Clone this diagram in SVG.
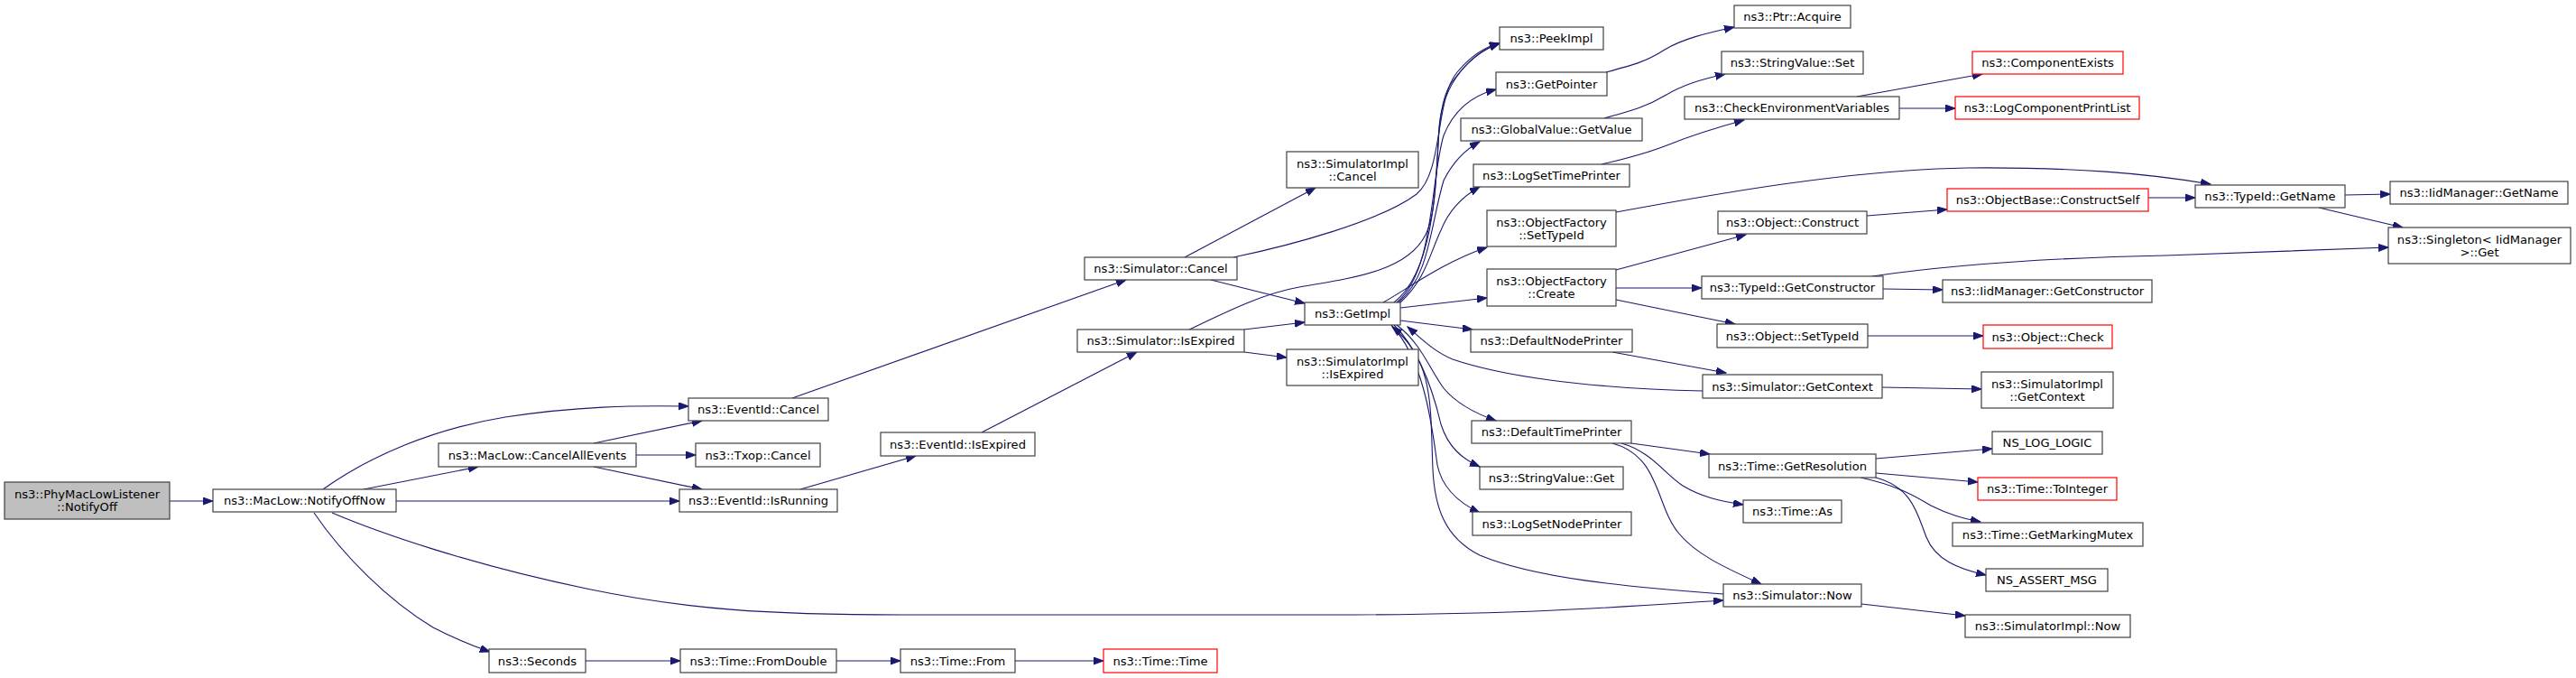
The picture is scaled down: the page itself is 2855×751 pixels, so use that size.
<svg xmlns="http://www.w3.org/2000/svg" width="2855" height="751" viewBox="0 0 2855 751">
<style>
.n rect{fill:#fff;stroke:#404040;stroke-width:1.2}
.n.red rect{stroke:#ff0000}
.n.root rect{fill:#bfbfbf}
text{font-family:"DejaVu Sans","Liberation Sans",sans-serif;font-size:13.1px;text-anchor:middle;fill:#000}
#edges path{fill:none;stroke:#191970;stroke-width:1.1;marker-end:url(#a)}
</style>
<defs>
<marker id="a" markerWidth="12" markerHeight="9" refX="11" refY="4" orient="auto" markerUnits="userSpaceOnUse">
<path d="M0,0 L11,4 L0,8 z" fill="#191970" stroke="#191970" stroke-width="1"/>
</marker>
</defs>
<rect width="2855" height="751" fill="#fff"/>
<g id="edges">
<path d="M188,555 L236,555"/>
<path d="M358,542 C410,505 480,475 560,462 C640,450 700,449 763,450"/>
<path d="M403,542 L530,517"/>
<path d="M439,555 L753,555"/>
<path d="M368,568 C420,590 520,625 650,652 C760,675 850,681 1000,681 L1500,681 C1700,680 1800,672 1910,665"/>
<path d="M348,568 C380,615 430,665 480,695 C505,708 520,714 543,722"/>
<path d="M658,491 L778,466"/>
<path d="M705,504 L771,504"/>
<path d="M658,517 L778,542"/>
<path d="M878,441 L1248,310"/>
<path d="M887,542 L1015,505"/>
<path d="M1088,479 L1260,390"/>
<path d="M1379,390 L1426,396"/>
<path d="M1379,365 L1446,357"/>
<path d="M1318,365 C1360,345 1400,325 1440,318 C1500,308 1560,300 1580,260 C1600,220 1585,120 1610,90 C1625,70 1640,55 1662,48"/>
<path d="M1313,285 L1458,208"/>
<path d="M1367,285 C1430,272 1530,245 1570,215 C1600,190 1590,110 1615,80 C1630,62 1645,52 1662,48"/>
<path d="M1342,310 L1446,336"/>
<path d="M1545,335 C1590,300 1592,200 1595,140 C1600,90 1630,60 1662,48"/>
<path d="M1548,335 C1590,300 1585,200 1600,150 C1612,120 1635,105 1658,99"/>
<path d="M1550,335 C1585,305 1585,250 1600,200 C1610,180 1625,165 1640,157"/>
<path d="M1552,335 C1580,310 1585,280 1597,255 C1605,235 1620,218 1640,207"/>
<path d="M1533,335 C1560,320 1600,290 1648,274"/>
<path d="M1552,341 L1648,330"/>
<path d="M1552,355 L1632,365"/>
<path d="M1548,360 C1575,380 1585,410 1600,430 C1615,448 1635,458 1658,466"/>
<path d="M1545,360 C1575,390 1590,440 1597,470 C1605,495 1620,508 1640,517"/>
<path d="M1542,360 C1580,400 1588,480 1593,515 C1598,540 1615,556 1640,568"/>
<path d="M1910,658 C1800,650 1700,640 1640,615 C1600,595 1590,560 1588,520 C1585,450 1590,400 1543,362"/>
<path d="M1887,433 C1750,430 1660,415 1610,398 C1590,390 1575,375 1560,362"/>
<path d="M1787,390 L1913,413"/>
<path d="M1780,80 C1810,72 1825,68 1845,55 C1865,43 1890,37 1922,30"/>
<path d="M1778,131 C1810,122 1825,118 1845,106 C1865,94 1885,88 1912,82"/>
<path d="M1775,182 C1810,174 1830,168 1850,160 C1870,152 1900,142 1933,133"/>
<path d="M2058,107 L2197,82"/>
<path d="M2105,120 L2167,120"/>
<path d="M1791,235 C1900,215 2050,188 2180,186 C2300,185 2380,192 2450,204"/>
<path d="M1791,299 L1935,260"/>
<path d="M1791,319 L1886,319"/>
<path d="M1791,332 L1923,359"/>
<path d="M2069,239 L2158,232"/>
<path d="M2381,219 L2433,219"/>
<path d="M2087,320 L2153,321"/>
<path d="M2075,306 C2180,291 2300,285 2400,283 L2647,274"/>
<path d="M2070,372 L2198,372"/>
<path d="M2599,216 L2649,215"/>
<path d="M2570,230 L2663,252"/>
<path d="M2086,429 L2196,431"/>
<path d="M1808,491 L1895,503"/>
<path d="M1797,491 C1830,500 1845,525 1865,538 C1885,550 1905,555 1932,559"/>
<path d="M1787,491 C1840,505 1835,560 1860,590 C1880,615 1915,630 1952,647"/>
<path d="M2079,508 L2208,497"/>
<path d="M2079,524 L2192,534"/>
<path d="M2062,529 C2100,537 2120,548 2140,560 C2160,570 2175,574 2195,578"/>
<path d="M2079,529 C2120,540 2125,570 2135,595 C2145,620 2170,630 2201,637"/>
<path d="M2063,669 L2178,682"/>
<path d="M649,732 L754,732"/>
<path d="M927,732 L998,732"/>
<path d="M1125,732 L1223,732"/>
</g>
<g id="n0" class="n root"><rect x="5" y="534" width="183" height="41"/><text x="96.5" y="552">ns3::PhyMacLowListener</text><text x="96.5" y="566">::NotifyOff</text></g>
<g id="n1" class="n"><rect x="236" y="542" width="203" height="25"/><text x="337.5" y="559">ns3::MacLow::NotifyOffNow</text></g>
<g id="n2" class="n"><rect x="763" y="441" width="155" height="25"/><text x="840.5" y="458">ns3::EventId::Cancel</text></g>
<g id="n3" class="n"><rect x="486" y="491" width="219" height="26"/><text x="595.5" y="508.5">ns3::MacLow::CancelAllEvents</text></g>
<g id="n4" class="n"><rect x="771" y="491" width="138" height="26"/><text x="840" y="508.5">ns3::Txop::Cancel</text></g>
<g id="n5" class="n"><rect x="753" y="542" width="175" height="25"/><text x="840.5" y="559">ns3::EventId::IsRunning</text></g>
<g id="n6" class="n"><rect x="542" y="719" width="107" height="26"/><text x="595.5" y="736.5">ns3::Seconds</text></g>
<g id="n7" class="n"><rect x="754" y="719" width="173" height="26"/><text x="840.5" y="736.5">ns3::Time::FromDouble</text></g>
<g id="n8" class="n"><rect x="976" y="479" width="171" height="26"/><text x="1061.5" y="496.5">ns3::EventId::IsExpired</text></g>
<g id="n9" class="n"><rect x="998" y="719" width="127" height="26"/><text x="1061.5" y="736.5">ns3::Time::From</text></g>
<g id="n10" class="n red"><rect x="1223" y="719" width="126" height="26"/><text x="1286" y="736.5">ns3::Time::Time</text></g>
<g id="n11" class="n"><rect x="1194" y="365" width="185" height="25"/><text x="1286.5" y="382">ns3::Simulator::IsExpired</text></g>
<g id="n12" class="n"><rect x="1202" y="285" width="169" height="25"/><text x="1286.5" y="302">ns3::Simulator::Cancel</text></g>
<g id="n13" class="n"><rect x="1426" y="168" width="146" height="40"/><text x="1499" y="185.5">ns3::SimulatorImpl</text><text x="1499" y="199.5">::Cancel</text></g>
<g id="n14" class="n"><rect x="1446" y="335" width="106" height="25"/><text x="1499" y="352">ns3::GetImpl</text></g>
<g id="n15" class="n"><rect x="1662" y="30" width="115" height="25"/><text x="1719.5" y="47">ns3::PeekImpl</text></g>
<g id="n16" class="n"><rect x="1658" y="80" width="123" height="26"/><text x="1719.5" y="97.5">ns3::GetPointer</text></g>
<g id="n17" class="n"><rect x="1619" y="131" width="201" height="25"/><text x="1719.5" y="148">ns3::GlobalValue::GetValue</text></g>
<g id="n18" class="n"><rect x="1633" y="182" width="173" height="25"/><text x="1719.5" y="199">ns3::LogSetTimePrinter</text></g>
<g id="n19" class="n"><rect x="1648" y="233" width="143" height="40"/><text x="1719.5" y="250.5">ns3::ObjectFactory</text><text x="1719.5" y="264.5">::SetTypeId</text></g>
<g id="n20" class="n"><rect x="1648" y="298" width="143" height="41"/><text x="1719.5" y="316">ns3::ObjectFactory</text><text x="1719.5" y="330">::Create</text></g>
<g id="n21" class="n"><rect x="1630" y="365" width="179" height="25"/><text x="1719.5" y="382">ns3::DefaultNodePrinter</text></g>
<g id="n22" class="n"><rect x="1426" y="387" width="146" height="40"/><text x="1499" y="404.5">ns3::SimulatorImpl</text><text x="1499" y="418.5">::IsExpired</text></g>
<g id="n23" class="n"><rect x="1631" y="466" width="177" height="25"/><text x="1719.5" y="483">ns3::DefaultTimePrinter</text></g>
<g id="n24" class="n"><rect x="1640" y="517" width="159" height="25"/><text x="1719.5" y="534">ns3::StringValue::Get</text></g>
<g id="n25" class="n"><rect x="1632" y="567" width="176" height="26"/><text x="1720" y="584.5">ns3::LogSetNodePrinter</text></g>
<g id="n26" class="n"><rect x="1922" y="6" width="129" height="25"/><text x="1986.5" y="23">ns3::Ptr::Acquire</text></g>
<g id="n27" class="n"><rect x="1908" y="57" width="157" height="25"/><text x="1986.5" y="74">ns3::StringValue::Set</text></g>
<g id="n28" class="n"><rect x="1867" y="107" width="238" height="25"/><text x="1986" y="124">ns3::CheckEnvironmentVariables</text></g>
<g id="n29" class="n red"><rect x="2186" y="57" width="167" height="25"/><text x="2269.5" y="74">ns3::ComponentExists</text></g>
<g id="n30" class="n red"><rect x="2167" y="107" width="204" height="25"/><text x="2269" y="124">ns3::LogComponentPrintList</text></g>
<g id="n31" class="n red"><rect x="2158" y="209" width="223" height="25"/><text x="2269.5" y="226">ns3::ObjectBase::ConstructSelf</text></g>
<g id="n32" class="n"><rect x="1904" y="234" width="165" height="25"/><text x="1986.5" y="251">ns3::Object::Construct</text></g>
<g id="n33" class="n"><rect x="1886" y="306" width="201" height="25"/><text x="1986.5" y="323">ns3::TypeId::GetConstructor</text></g>
<g id="n34" class="n"><rect x="2153" y="310" width="232" height="25"/><text x="2269" y="327">ns3::IidManager::GetConstructor</text></g>
<g id="n35" class="n"><rect x="1903" y="359" width="167" height="26"/><text x="1986.5" y="376.5">ns3::Object::SetTypeId</text></g>
<g id="n36" class="n red"><rect x="2198" y="360" width="143" height="26"/><text x="2269.5" y="377.5">ns3::Object::Check</text></g>
<g id="n37" class="n"><rect x="1887" y="415" width="199" height="26"/><text x="1986.5" y="432.5">ns3::Simulator::GetContext</text></g>
<g id="n38" class="n"><rect x="2196" y="412" width="146" height="40"/><text x="2269" y="429.5">ns3::SimulatorImpl</text><text x="2269" y="443.5">::GetContext</text></g>
<g id="n39" class="n"><rect x="1894" y="503" width="185" height="26"/><text x="1986.5" y="520.5">ns3::Time::GetResolution</text></g>
<g id="n40" class="n"><rect x="1932" y="554" width="109" height="25"/><text x="1986.5" y="571">ns3::Time::As</text></g>
<g id="n41" class="n"><rect x="1910" y="647" width="153" height="25"/><text x="1986.5" y="664">ns3::Simulator::Now</text></g>
<g id="n42" class="n"><rect x="2208" y="478" width="122" height="25"/><text x="2269" y="495">NS_LOG_LOGIC</text></g>
<g id="n43" class="n red"><rect x="2192" y="529" width="154" height="25"/><text x="2269" y="546">ns3::Time::ToInteger</text></g>
<g id="n44" class="n"><rect x="2164" y="579" width="211" height="26"/><text x="2269.5" y="596.5">ns3::Time::GetMarkingMutex</text></g>
<g id="n45" class="n"><rect x="2201" y="630" width="135" height="25"/><text x="2268.5" y="647">NS_ASSERT_MSG</text></g>
<g id="n46" class="n"><rect x="2178" y="681" width="183" height="25"/><text x="2269.5" y="698">ns3::SimulatorImpl::Now</text></g>
<g id="n47" class="n"><rect x="2433" y="205" width="166" height="25"/><text x="2516" y="222">ns3::TypeId::GetName</text></g>
<g id="n48" class="n"><rect x="2649" y="201" width="197" height="25"/><text x="2747.5" y="218">ns3::IidManager::GetName</text></g>
<g id="n49" class="n"><rect x="2647" y="252" width="202" height="40"/><text x="2748" y="269.5">ns3::Singleton&lt; IidManager</text><text x="2748" y="283.5">&gt;::Get</text></g>
</svg>
